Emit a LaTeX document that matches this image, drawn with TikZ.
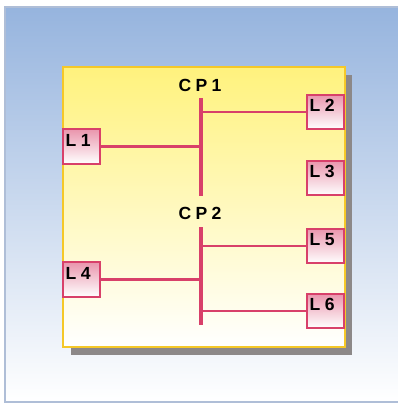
\documentclass[tikz,border=0pt]{standalone}
\usepackage{fontspec}
\setsansfont{Liberation Sans}[LetterSpace=25]
\usepackage{tikz}
\usetikzlibrary{positioning,calc}
\definecolor{paneblue}{RGB}{150,180,222}
\definecolor{frameblue}{RGB}{175,190,215}
\definecolor{panelyellow}{RGB}{255,242,125}
\definecolor{rimyellow}{RGB}{245,200,40}
\definecolor{linkred}{RGB}{216,64,106}
\definecolor{shadowgray}{RGB}{140,136,136}

\begin{document}
\begin{tikzpicture}[
        x=0.02cm,y=-0.02cm,
        every node/.style={font=\sffamily\bfseries},
        lbox/.style={draw=linkred,line width=1.1pt,
                   top color=linkred!55,middle color=linkred!38,bottom color=white,
                   minimum width=0.74cm,text width=0.74cm-3pt,align=left,
                   inner sep=1.5pt,text height=8pt,text depth=8.5pt},
        bus/.style={linkred,line width=2.3pt},
        link/.style={linkred,line width=1.3pt}
    ]
        \useasboundingbox (0,0) rectangle (398,406);
        % background panel and shadowed box
        \draw[frameblue,line width=0.8pt,top color=paneblue,middle color=paneblue!75,bottom color=white]
            (5,7) rectangle (402,402);
        \fill[shadowgray] (71,75) rectangle (352,355);
        \draw[rimyellow,line width=0.8pt,top color=panelyellow,middle color=panelyellow!85,bottom color=white]
            (63,67) rectangle (345,347);
        % control points
        \node (cp1) at (200,85) {CP1};
        \node (cp2) at (200,213) {CP2};
        \coordinate (bus1top) at (201,98);
        \coordinate (bus1bot) at (201,196);
        \coordinate (bus2top) at (201,227);
        \coordinate (bus2bot) at (201,325);
        \draw[bus] (bus1top) -- (bus1bot);
        \draw[bus] (bus2top) -- (bus2bot);
        % links
        \node[lbox] (l1) at (81.5,146.5) {L1};
        \node[lbox] (l2) at (325.5,112) {L2};
        \node[lbox] (l3) at (325.5,178) {L3};
        \node[lbox] (l5) at (325.5,246) {L5};
        \node[lbox] (l4) at (81.5,279.5) {L4};
        \node[lbox] (l6) at (325.5,311) {L6};
        \draw[link] (l1.east) -- (l1.east -| bus1top);
        \draw[link] (l2.west) -- (l2.west -| bus1top);
        \draw[link] (l5.west) -- (l5.west -| bus2top);
        \draw[link] (l4.east) -- (l4.east -| bus2top);
        \draw[link] (l6.west) -- (l6.west -| bus2top);
    \end{tikzpicture}
\end{document}
